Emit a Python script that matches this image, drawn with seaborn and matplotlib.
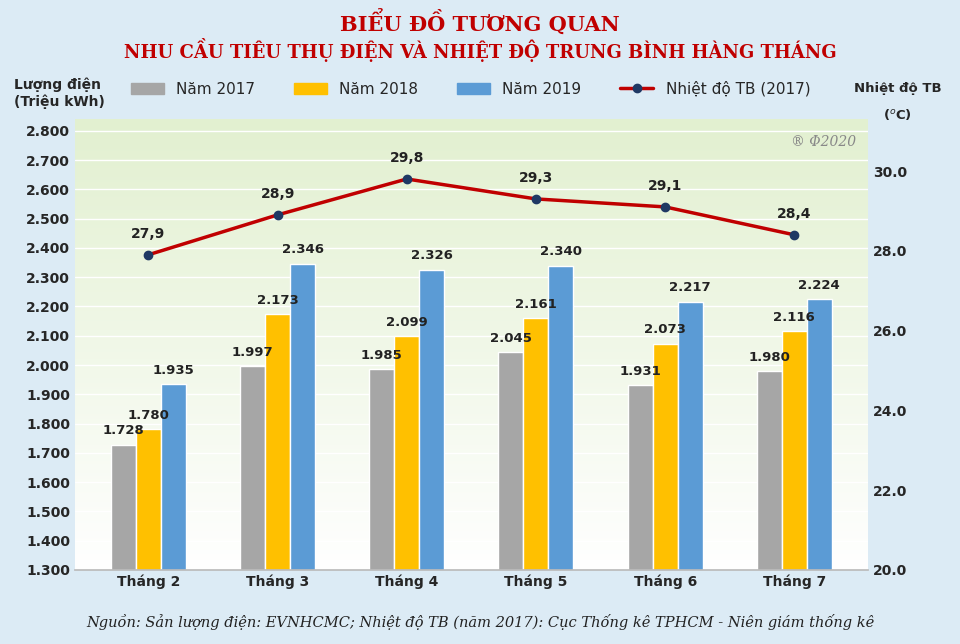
import matplotlib
matplotlib.use("Agg")
import matplotlib.pyplot as plt
import numpy as np
import pandas as pd
import seaborn as sns

MONTHS = ["Tháng 2", "Tháng 3", "Tháng 4", "Tháng 5", "Tháng 6", "Tháng 7"]
Y2017 = [1728, 1997, 1985, 2045, 1931, 1980]
Y2018 = [1780, 2173, 2099, 2161, 2073, 2116]
Y2019 = [1935, 2346, 2326, 2340, 2217, 2224]
TEMP = [27.9, 28.9, 29.8, 29.3, 29.1, 28.4]
SERIES = ["Năm 2017", "Năm 2018", "Năm 2019"]
COLORS = ["#A6A6A6", "#FFC000", "#5B9BD5"]

df = pd.DataFrame({"month": MONTHS * 3,
                   "series": np.repeat(SERIES, len(MONTHS)),
                   "value": Y2017 + Y2018 + Y2019})

sns.set_theme(style="white", rc={"font.family": "DejaVu Sans"})
fig = plt.figure(figsize=(9.6, 6.44), dpi=100)
fig.patch.set_facecolor("#DCEBF5")
ax = fig.add_axes([0.078, 0.115, 0.826, 0.70])

# green-to-white gradient backdrop
grad = np.linspace(1, 0, 256).reshape(-1, 1)
cmap = matplotlib.colors.LinearSegmentedColormap.from_list("g", ["#FFFFFF", "#E2F0D0"])
ax.imshow(grad, aspect="auto", cmap=cmap, extent=[0, 1, 0, 1], transform=ax.transAxes, zorder=0)

sns.barplot(data=df, x="month", y="value", hue="series", palette=COLORS,
            width=0.58, gap=0, ax=ax, zorder=2, legend=False, saturation=1)
ax.set_ylim(1300, 2840)
ax.set_yticks(np.arange(1300, 2801, 100))
ax.set_yticklabels([f"{v/1000:.3f}" for v in np.arange(1300, 2801, 100)], fontsize=10, fontweight="bold")
ax.set_xlabel("")
ax.set_ylabel("")
ax.tick_params(axis="x", labelsize=10, length=0)
for t in ax.get_xticklabels():
    t.set_fontweight("bold")
ax.grid(axis="y", color="white", linewidth=1)
for s in ax.spines.values():
    s.set_visible(False)
ax.spines["bottom"].set_visible(True)
ax.spines["bottom"].set_color("#BBBBBB")

for cont in ax.containers:
    for bar in cont:
        h = bar.get_height()
        ax.text(bar.get_x() + bar.get_width() / 2, h + 25, f"{h/1000:.3f}",
                ha="center", va="bottom", fontsize=9.5, fontweight="bold", color="#222222")

ax2 = ax.twinx()
ax2.plot(range(len(MONTHS)), TEMP, color="#C00000", linewidth=2.5, marker="o",
         markersize=6, markerfacecolor="#1F3864", markeredgecolor="#1F3864", zorder=5)
ax2.set_ylim(20, 31.3)
ax2.set_yticks(np.arange(20, 31, 2))
ax2.set_yticklabels([f"{v:.1f}" for v in np.arange(20, 31, 2)], fontsize=10, fontweight="bold")
for s in ax2.spines.values():
    s.set_visible(False)
ax2.tick_params(length=0)
ax.tick_params(axis="y", length=0)
for i, t in enumerate(TEMP):
    ax2.text(i, t + 0.35, f"{t:.1f}".replace(".", ","), ha="center", va="bottom",
             fontsize=10, fontweight="bold", color="#222222")

ax.text(0.985, 0.965, "® Φ2020", transform=ax.transAxes, ha="right", va="top",
        fontsize=10, style="italic", color="#888888", family="DejaVu Serif")

fig.text(0.5, 0.965, "BIỂU ĐỒ TƯƠNG QUAN", ha="center", va="center", color="#C00000",
         fontsize=15, fontweight="bold", family="DejaVu Serif")
fig.text(0.5, 0.922, "NHU CẦU TIÊU THỤ ĐIỆN VÀ NHIỆT ĐỘ TRUNG BÌNH HÀNG THÁNG", ha="center",
         va="center", color="#C00000", fontsize=13, fontweight="bold", family="DejaVu Serif")
fig.text(0.015, 0.855, "Lượng điện\n(Triệu kWh)", ha="left", va="center", fontsize=10, fontweight="bold")
fig.text(0.935, 0.862, "Nhiệt độ TB", ha="center", va="center", fontsize=9.5, fontweight="bold")
fig.text(0.935, 0.822, "($^o$C)", ha="center", va="center", fontsize=9.5, fontweight="bold")

handles = [plt.Rectangle((0, 0), 1, 1, color=c) for c in COLORS]
handles.append(plt.Line2D([], [], color="#C00000", linewidth=2.5, marker="o",
                          markerfacecolor="#1F3864", markeredgecolor="#1F3864"))
fig.legend(handles, SERIES + ["Nhiệt độ TB (2017)"], loc="center", bbox_to_anchor=(0.49, 0.862),
           ncol=4, frameon=False, fontsize=11, handlelength=2.2, columnspacing=2.5)

fig.text(0.5, 0.034, "Nguồn: Sản lượng điện: EVNHCMC; Nhiệt độ TB (năm 2017): Cục Thống kê TPHCM - Niên giám thống kê",
         ha="center", va="center", fontsize=10.5, style="italic", family="DejaVu Serif", color="#222222")

fig.savefig("out.png", dpi=100, facecolor=fig.get_facecolor())
